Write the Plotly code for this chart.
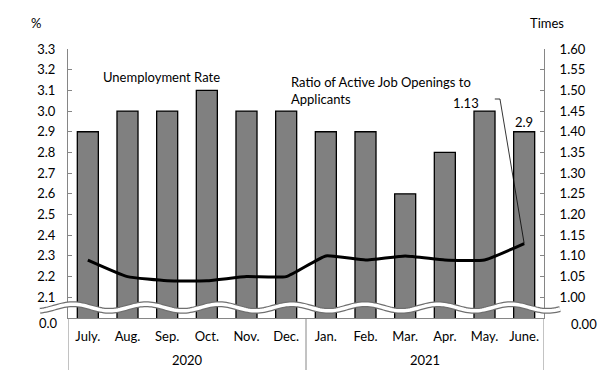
import math
import plotly.graph_objects as go

# ---- data ----
months = ["July.", "Aug.", "Sep.", "Oct.", "Nov.", "Dec.",
          "Jan.", "Feb.", "Mar.", "Apr.", "May.", "June."]
years = ["2020", "2021"]
unemployment = [2.9, 3.0, 3.0, 3.1, 3.0, 3.0, 2.9, 2.9, 2.6, 2.8, 3.0, 2.9]
ratio = [1.09, 1.05, 1.04, 1.04, 1.05, 1.05, 1.10, 1.09, 1.10, 1.09, 1.09, 1.13]
left_ticks = [2.1, 2.2, 2.3, 2.4, 2.5, 2.6, 2.7, 2.8, 2.9, 3.0, 3.1, 3.2, 3.3]
right_ticks = [1.00, 1.05, 1.10, 1.15, 1.20, 1.25, 1.30, 1.35, 1.40, 1.45, 1.50, 1.55, 1.60]

FONT = "Lato"
OFF = 8  # page body margin
W, H = 614 - 2 * OFF, 381 - 2 * OFF
# plot area in window pixels: x 68..544, y 49..317.7
L = 68 - OFF
T = 49 - OFF
R = W - (544 - OFF)
B = H - (318 - OFF)
PW, PH = W - L - R, H - T - B
AXC = "#868686"

def px_to_paper(px, py):
    # window pixel -> paper fraction
    return (px - OFF - L) / PW, (H - B - (py - OFF)) / PH

xi = list(range(len(months)))

fig = go.Figure()
fig.add_trace(go.Bar(
    x=xi, y=unemployment, width=0.53,
    marker=dict(color="#808080", line=dict(color="#000000", width=1.3)),
    showlegend=False, hoverinfo="skip"))
fig.add_trace(go.Scatter(
    x=xi, y=ratio, yaxis="y2", mode="lines",
    line=dict(color="#000000", width=3, shape="spline", smoothing=0.4),
    showlegend=False, hoverinfo="skip"))

shapes = []
# wave break
pts = []
x = 40.0
while x <= 560.0:
    y = 307.5 - 3.3 * math.cos(2 * math.pi * (x - 73) / 73)
    pts.append(px_to_paper(x, y))
    x += 2
path = "M " + " L ".join(f"{a:.5f},{b:.5f}" for a, b in pts)
shapes.append(dict(type="path", xref="paper", yref="paper", path=path,
                   line=dict(color="#707070", width=6)))
shapes.append(dict(type="path", xref="paper", yref="paper", path=path,
                   line=dict(color="#ffffff", width=3.5)))
# category dividers below axis
yd = px_to_paper(0, 370)[1]
for xv in [-0.5, 5.5, 11.5]:
    shapes.append(dict(type="line", xref="x", yref="paper", x0=xv, x1=xv,
                       y0=0, y1=yd, line=dict(color=AXC, width=1)))
# leader line for 1.13
yl = 1.60 - (99 - 49) * (0.65 / PH)
shapes.append(dict(type="line", xref="x", yref="y2", x0=10.26, x1=10.39, y0=yl, y1=yl,
                   line=dict(color="#000000", width=0.8)))
shapes.append(dict(type="line", xref="x", yref="y2", x0=10.39, x1=xi[-1], y0=yl, y1=ratio[-1],
                   line=dict(color="#000000", width=0.8)))

ann = []
f13 = dict(family=FONT, size=13, color="#000000")
ax_, ay_ = px_to_paper(161, 77)
ann.append(dict(text="Unemployment Rate", x=ax_, y=ay_, xref="paper", yref="paper",
                showarrow=False, font=f13, xanchor="center", yanchor="middle"))
ax_, ay_ = px_to_paper(289, 90.5)
ann.append(dict(text="Ratio of Active Job Openings to<br>Applicants", x=ax_, y=ay_,
                xref="paper", yref="paper", showarrow=False, font=f13,
                xanchor="left", yanchor="middle", align="left"))
ann.append(dict(text=f"{ratio[-1]:.2f}", x=xi[-1], y=ratio[-1], xref="x", yref="y2",
                showarrow=False, font=f13, xshift=-58, yshift=141))
ann.append(dict(text=f"{unemployment[-1]}", x=xi[-1], y=unemployment[-1], xref="x", yref="y",
                showarrow=False, font=f13, yanchor="bottom", yshift=0))
for i, yr in enumerate(years):
    ax_, ay_ = px_to_paper(0, 360)
    ann.append(dict(text=yr, x=2.5 + 6 * i, y=ay_, xref="x", yref="paper",
                    showarrow=False, font=f13, yanchor="middle"))
ax_, ay_ = px_to_paper(48, 323)
ann.append(dict(text="0.0", x=ax_, y=ay_, xref="paper", yref="paper", showarrow=False,
                font=f13, xanchor="center", yanchor="middle"))
ax_, ay_ = px_to_paper(584, 324)
ann.append(dict(text="0.00", x=ax_, y=ay_, xref="paper", yref="paper", showarrow=False,
                font=f13, xanchor="center", yanchor="middle"))
ax_, ay_ = px_to_paper(36, 23)
ann.append(dict(text="%", x=ax_, y=ay_, xref="paper", yref="paper", showarrow=False,
                font=f13, xanchor="center", yanchor="middle"))
ax_, ay_ = px_to_paper(547, 23)
ann.append(dict(text="Times", x=ax_, y=ay_, xref="paper", yref="paper", showarrow=False,
                font=f13, xanchor="center", yanchor="middle"))

fig.update_layout(
    width=W, height=H, margin=dict(l=L, r=R, t=T, b=B),
    paper_bgcolor="white", plot_bgcolor="white",
    font=f13, bargap=0.47, showlegend=False,
    xaxis=dict(range=[-0.5, 11.5], tickvals=xi, ticktext=months, showgrid=False,
               zeroline=False, showline=True, linecolor=AXC, linewidth=1, ticks="",
               tickfont=f13, ticklabelstandoff=6),
    yaxis=dict(range=[2.0, 3.3], tickvals=left_ticks, ticktext=[f"{v:.1f}" for v in left_ticks],
               showgrid=False, zeroline=False, showline=True, linecolor=AXC, linewidth=1,
               ticks="inside", ticklen=4, tickcolor=AXC, tickfont=f13, ticklabelstandoff=9),
    yaxis2=dict(range=[0.95, 1.60], overlaying="y", side="right", tickvals=right_ticks,
                ticktext=[f"{v:.2f}" for v in right_ticks], showgrid=False, zeroline=False,
                showline=True, linecolor=AXC, linewidth=1, ticks="inside", ticklen=4,
                tickcolor=AXC, tickfont=f13, ticklabelstandoff=12),
    shapes=shapes, annotations=ann,
)

fig.write_html("out.html")
